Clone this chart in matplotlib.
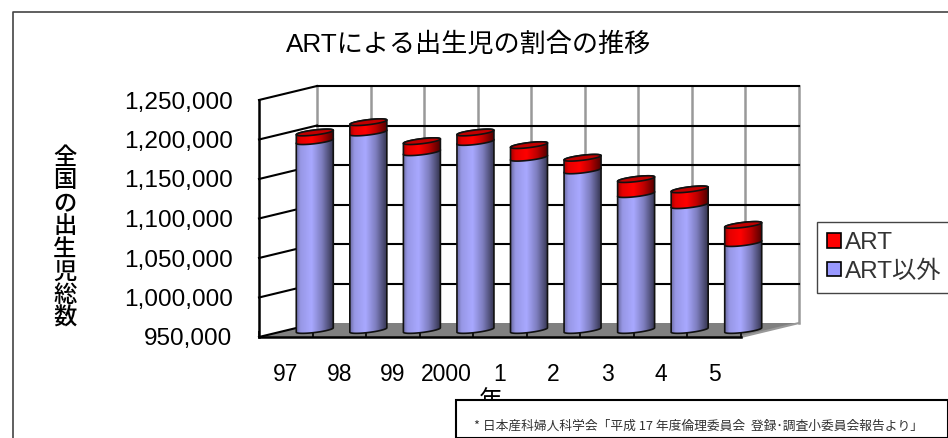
import numpy as np
import matplotlib
matplotlib.use('Agg')
import matplotlib.pyplot as plt
from matplotlib.lines import Line2D
from matplotlib.patches import Patch, Polygon, Rectangle
from matplotlib.ticker import FuncFormatter

plt.rcParams['font.family'] = ['Liberation Sans', 'Noto Sans CJK JP', 'DejaVu Sans']

years = ['97', '98', '99', '2000', '1', '2', '3', '4', '5']
other_art = [1189000, 1200000, 1175000, 1188000, 1168000, 1152000, 1122000, 1108000, 1060000]
art = [11000, 13000, 14000, 12000, 16000, 16000, 19000, 20000, 23000]
y_ticks = [950000, 1000000, 1050000, 1100000, 1150000, 1200000, 1250000]

W, H = 948, 438
fig = plt.figure(figsize=(W / 100, H / 100), dpi=100)
ax = fig.add_axes([259 / W, (H - 337) / H, 482 / W, 237 / H])
ax.set_xlim(0, 9)
ax.set_ylim(950000, 1250000)

# one pixel in data units, the chart is a fake 3d so depth is done by hand
px_x = 9 / 482
px_y = 300000 / 237
depth_x = 58 * px_x
depth_y = 14 * px_y

# floor and side wall
ax.add_patch(Polygon([(0, 950000), (9, 950000), (9 + depth_x, 950000 + depth_y), (depth_x, 950000 + depth_y)],
                     facecolor='#808080', edgecolor='none', clip_on=False, zorder=1))
ax.plot([9, 9 + depth_x], [950000, 950000 + depth_y], color='#999999', lw=1.5, clip_on=False, zorder=1)

for i in range(10):
    ax.plot([i + depth_x, i + depth_x], [950000 + depth_y, 1250000 + depth_y], color='#999999', lw=1.8,
            clip_on=False, zorder=1.5)
for v in y_ticks:
    ax.plot([0, depth_x], [v, v + depth_y], color='black', lw=1.5, clip_on=False, zorder=2)
    if v > 950000:
        ax.plot([depth_x, 9 + depth_x], [v + depth_y, v + depth_y], color='black', lw=1.5, clip_on=False, zorder=2)


def shade(base):
    # light band left of centre, dark towards the edges
    pos = [0, 0.12, 0.42, 0.7, 1]
    mult = [0.66, 0.9, 1.0, 0.75, 0.32]
    m = np.interp(np.linspace(0, 1, 80), pos, mult)
    return np.array([[np.array(base) * k for k in m]])


def ellipse(cx, val, t):
    a = 18.5 * px_x
    return cx + a * np.cos(t), val + (2.2 * np.cos(t) + 2.5 * np.sin(t)) * px_y


def cylinder(cx, low, high, base, z):
    t1 = np.linspace(np.pi, 2 * np.pi, 40)
    t2 = np.linspace(0, np.pi, 40)
    x1, y1 = ellipse(cx, low, t1)
    x2, y2 = ellipse(cx, high, t2)
    pts = np.column_stack([np.r_[x1, x2], np.r_[y1, y2]])
    poly = Polygon(pts, facecolor='none', edgecolor='#111111', lw=1.2, clip_on=False, zorder=z + 0.1)
    ax.add_patch(poly)
    im = ax.imshow(shade(base), extent=[cx - 18.5 * px_x, cx + 18.5 * px_x, low - 6 * px_y, high + 6 * px_y],
                   aspect='auto', zorder=z, interpolation='bilinear')
    im.set_clip_path(poly)
    im.set_clip_box(fig.bbox)


# bars stand half way into the depth of the floor
shift = depth_y / 2
for i in range(len(years)):
    cx = i + 0.5 + depth_x / 2
    total = other_art[i] + art[i] + shift
    mid = other_art[i] + shift
    z = 3 + i
    cylinder(cx, 950000 + shift, mid, (0.66, 0.66, 1.0), z)
    cylinder(cx, mid, total, (1.0, 0.0, 0.0), z + 0.2)
    t = np.linspace(0, 2 * np.pi, 80)
    ex, ey = ellipse(cx, total, t)
    ax.add_patch(Polygon(np.column_stack([ex, ey]), facecolor='#c00000', edgecolor='#111111', lw=1.2,
                         clip_on=False, zorder=z + 0.4))

ax.set_xlim(0, 9)
ax.set_ylim(950000, 1250000)
ax.patch.set_visible(False)

for s in ['top', 'right']:
    ax.spines[s].set_visible(False)
for s in ['left', 'bottom']:
    ax.spines[s].set_linewidth(1.8)
    ax.spines[s].set_zorder(2.5)

ax.set_yticks(y_ticks)
ax.yaxis.set_major_formatter(FuncFormatter(lambda v, p: f'{int(v):,}'))
ax.tick_params(axis='y', length=0, pad=19, labelsize=17.6)
ax.set_xticks(np.arange(10))
ax.set_xticklabels([])
ax.tick_params(axis='x', which='major', direction='in', length=4, width=1.2)
ax.set_xticks(np.arange(len(years)) + 0.5, minor=True)
ax.set_xticklabels(years, minor=True)
ax.tick_params(axis='x', which='minor', length=0, pad=19, labelsize=16.5)

fig.text(469 / W, 1 - 44 / H, 'ARTによる出生児の割合の推移', fontsize=18.8, ha='center', va='center')
fig.text(65 / W, 1 - 238 / H, '\n'.join('全国の出生児総数'), fontsize=16.8, ha='center', va='center', linespacing=1.0,
         fontweight='medium')
fig.text(491 / W, 1 - 401 / H, '年', fontsize=17, ha='center', va='center')

# outer frame of the slide
fig.add_artist(Line2D([13 / W, 13 / W, 1], [0, 1 - 12 / H, 1 - 12 / H], color='#444444', lw=1.2))

handles = [Patch(facecolor='#ff0000', edgecolor='black', lw=1.2, label='ART'),
           Patch(facecolor='#9999ff', edgecolor='black', lw=1.2, label='ART以外')]
leg = fig.legend(handles=handles, loc='upper left', bbox_to_anchor=(817 / W, 1 - 222 / H), borderaxespad=0,
                 fontsize=17.5, handlelength=0.55, handleheight=0.55, handletextpad=0.2, borderpad=0.42,
                 labelspacing=0.25, fancybox=False, framealpha=1, edgecolor='#444444', labelcolor='#333333')

# source note box sits on top of the axis label
fig.add_artist(Rectangle((456 / W, 0), 1 - 456 / W, 38 / H, transform=fig.transFigure, facecolor='white',
                         edgecolor='black', lw=1.5, zorder=10))
fig.text(474 / W, 1 - 426 / H, '* 日本産科婦人科学会「平成 17 年度倫理委員会  登録･調査小委員会報告より」',
         fontsize=9.2, color='#333333', ha='left', va='center', zorder=11,
         family=['Noto Sans CJK JP', 'DejaVu Sans'])

fig.savefig('out.png', dpi=100)
